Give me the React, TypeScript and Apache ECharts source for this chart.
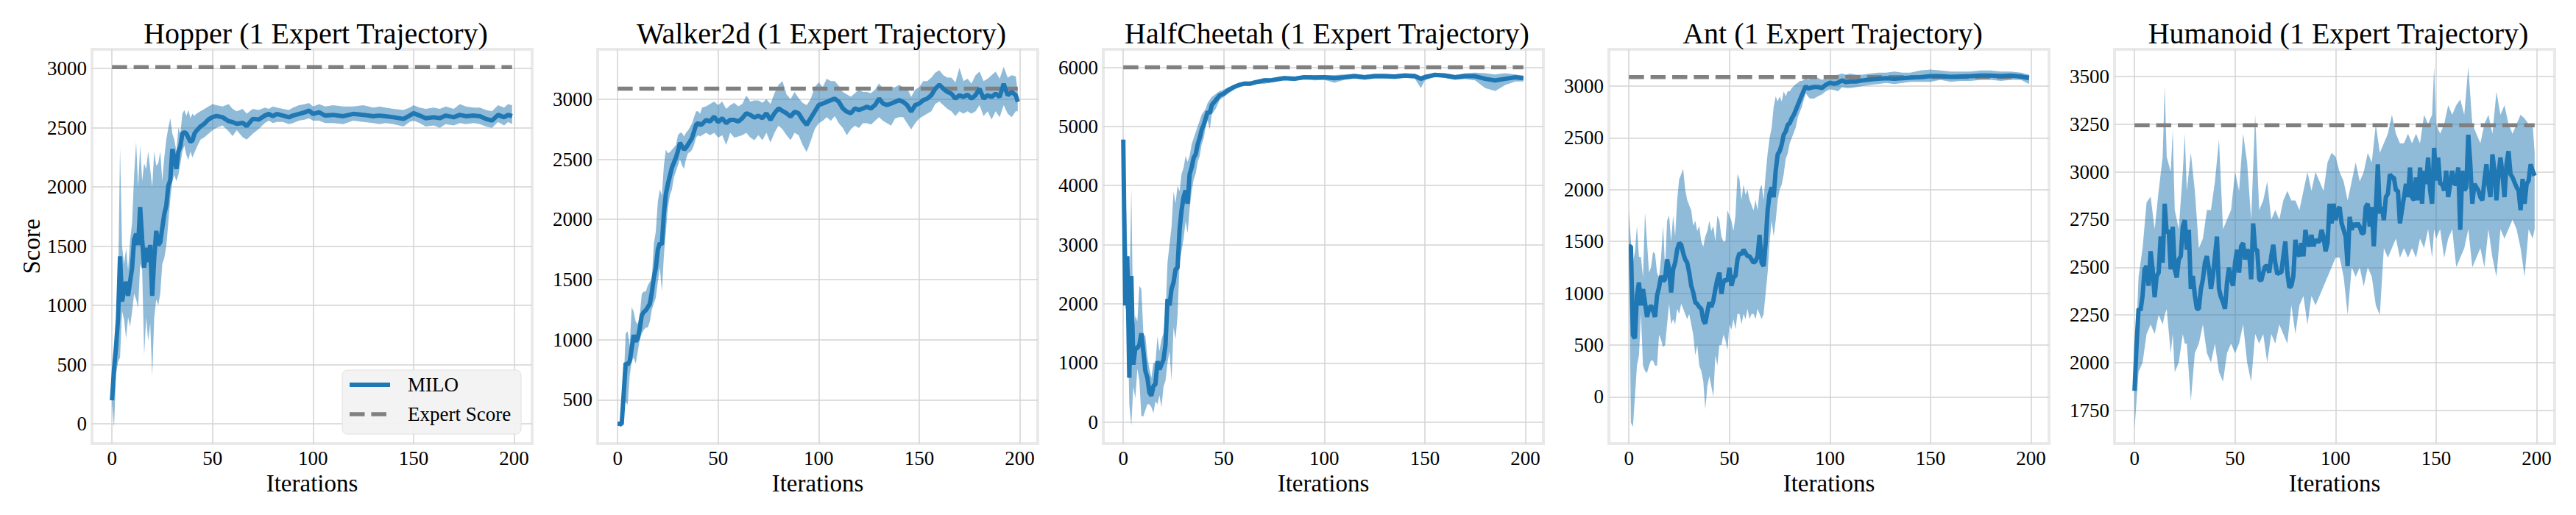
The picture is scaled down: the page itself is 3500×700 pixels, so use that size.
import React, { useEffect, useRef } from "react";
import * as echarts from "echarts";

const FONT = "'Liberation Serif', 'Times New Roman', Times, serif";

// ---------------- data ----------------
const TITLES = [
  "Hopper (1 Expert Trajectory)",
  "Walker2d (1 Expert Trajectory)",
  "HalfCheetah (1 Expert Trajectory)",
  "Ant (1 Expert Trajectory)",
  "Humanoid (1 Expert Trajectory)",
];
const X_TICKS = [0, 50, 100, 150, 200];
const HOP_TICKS = [0, 500, 1000, 1500, 2000, 2500, 3000];
const WAL_TICKS = [500, 1000, 1500, 2000, 2500, 3000];
const HC_TICKS = [0, 1000, 2000, 3000, 4000, 5000, 6000];
const ANT_TICKS = [0, 500, 1000, 1500, 2000, 2500, 3000];
const HUM_TICKS = [1750, 2000, 2250, 2500, 2750, 3000, 3250, 3500];

const EXPERT = [3012, 3088, 6000, 3086, 3245];

// Hopper
const HOP_X = [0,1,2,3,4,5,6,7,8,9,10,11,12,13,14,15,16,17,18,19,20,21,22,23,24,25,26,27,28,29,30,31,32,33,34,35,36,37,38,39,40,41,42,
  44,46,48,50,52,55,58,60,62,65,67,70,73,76,78,80,82,85,88,90,93,96,98,100,103,106,110,115,120,125,130,133,136,140,145,148,150,153,156,160,163,166,170,173,176,180,183,186,189,192,195,197,199];
const HOP_MEAN = [198,460,650,890,1414,1033,1128,1200,1080,1200,1319,1557,1605,1510,1831,1557,1319,1486,1366,1510,1080,1400,1629,1510,1533,1653,1772,1843,2010,2058,2320,2249,2153,2296,2344,2451,2463,2451,2415,2381,2392,2451,2475,
  2511,2535,2571,2590,2600,2589,2556,2548,2534,2542,2514,2575,2570,2603,2617,2598,2617,2603,2589,2603,2617,2631,2645,2617,2631,2603,2609,2598,2617,2609,2598,2603,2598,2589,2575,2603,2623,2603,2581,2589,2581,2603,2589,2609,2598,2603,2598,2575,2561,2609,2589,2609,2598];
const HOP_LO = [170,-30,420,520,560,950,880,720,900,820,950,1100,1050,980,1350,1300,580,900,700,850,400,900,1050,1000,1100,1350,1400,1500,1700,1900,2050,2100,2050,2100,2200,2300,2350,2270,2230,2300,2250,2290,2330,
  2400,2420,2450,2480,2500,2520,2470,2430,2480,2420,2400,2450,2490,2540,2560,2540,2550,2550,2530,2540,2560,2570,2580,2560,2560,2540,2540,2530,2560,2550,2540,2530,2540,2530,2510,2550,2560,2540,2510,2520,2500,2530,2520,2540,2530,2540,2530,2510,2500,2550,2520,2550,2530];
const HOP_HI = [230,500,800,1150,2330,1500,1350,1480,1300,1550,1700,2100,2380,2000,2350,2050,2200,2150,2300,2150,2000,2300,2180,2200,2300,2050,2250,2400,2500,2580,2450,2400,2300,2500,2450,2620,2650,2600,2650,2580,2620,2600,2620,
  2640,2660,2680,2700,2690,2680,2700,2660,2640,2660,2620,2660,2650,2670,2660,2680,2670,2660,2650,2670,2690,2700,2710,2680,2700,2680,2690,2680,2680,2690,2670,2680,2670,2660,2650,2670,2690,2670,2660,2670,2660,2680,2660,2700,2680,2670,2670,2650,2640,2690,2670,2700,2690];

// Walker2d
const WAL_X = [0,1,2,3,4,5,6,7,8,9,10,11,12,13,14,15,16,17,18,19,20,21,22,23,24,25,26,27,28,29,30,31,32,33,34,35,36,37,38,39,40,41,42,
  44,46,48,50,52,54,56,58,60,62,64,66,68,70,72,74,76,78,80,82,84,86,88,90,92,94,96,98,100,102,104,106,108,110,112,114,116,118,120,122,
  124,126,128,130,132,134,136,138,140,142,144,146,148,150,152,154,156,158,160,162,164,166,168,170,172,174,176,178,180,182,184,186,188,190,192,194,196,198,199];
const WAL_MEAN = [300,300,295,546,806,792,820,929,1038,984,1011,1093,1202,1230,1243,1270,1298,1393,1516,1598,1749,1803,1790,2049,2213,2295,2363,2432,2473,2514,2568,2637,2609,2582,2596,2623,2650,2678,2732,2787,2801,2787,2792,
  2828,2814,2855,2809,2842,2801,2828,2828,2814,2842,
  2883,2869,2847,2863,2842,2883,2828,2883,2923,2902,
  2883,2855,2896,2883,2828,2787,2842,2896,2951,2964,
  2978,2992,3005,2978,2923,2896,2883,2923,2910,2923,
  2937,2923,2951,3005,2964,2951,2964,2978,2992,2978,
  2951,2896,2951,2964,2992,3005,3033,3087,3120,3087,
  3060,3046,3005,3033,3019,3038,3005,3033,3087,3005,
  3033,3019,3046,3019,3128,3033,3060,3033,2978];
const WAL_LO = [290,280,280,450,480,460,700,820,850,800,900,1000,1050,1080,1100,1100,1150,1250,1300,1350,1480,1600,1400,1700,1900,2100,2200,2250,2350,2400,2450,2500,2450,2420,2500,2550,2560,2580,2620,2680,2700,2690,2700,
  2720,2700,2720,2680,2700,2620,2720,2680,2690,2700,
  2720,2680,2660,2700,2660,2720,2640,2720,2780,2750,
  2700,2660,2720,2700,2620,2560,2650,2750,2800,2820,
  2850,2820,2860,2800,2760,2700,2750,2780,2760,2800,
  2800,2790,2820,2850,2820,2800,2780,2840,2850,2850,
  2800,2750,2800,2840,2860,2880,2900,2960,2980,2950,
  2920,2900,2860,2900,2880,2900,2880,2900,2950,2860,
  2900,2830,2900,2850,2950,2880,2850,2900,2900];
const WAL_HI = [310,310,310,650,1050,1070,950,1270,1230,1150,1130,1200,1380,1400,1400,1450,1480,1500,1800,1900,2150,2250,2200,2450,2580,2550,2560,2580,2600,2620,2700,2720,2720,2690,2720,2740,2770,2800,2850,2900,2900,2880,2930,
  2940,2960,2980,2950,2980,2920,2950,2970,2940,2960,
  3030,2980,2990,2990,2970,3000,2960,3050,3120,3150,
  3040,3000,3060,3010,2970,2950,3000,3100,3140,3100,
  3170,3150,3150,3110,3060,3040,3020,3050,3080,3060,
  3060,3050,3080,3130,3090,3080,3100,3100,3120,3100,
  3090,3020,3080,3100,3150,3150,3180,3220,3240,3200,
  3180,3180,3140,3260,3150,3170,3130,3200,3230,3150,
  3170,3200,3230,3170,3270,3180,3200,3190,3060];

// HalfCheetah
const HC_X = [0,1,2,3,4,5,6,7,8,9,10,11,12,13,14,15,16,17,18,19,20,21,22,23,24,25,26,27,28,29,30,31,32,33,34,35,36,37,38,39,40,41,42,43,44,
  46,48,50,52,55,58,60,63,66,70,73,76,80,85,90,95,100,105,110,115,120,125,130,135,140,145,148,150,155,160,165,170,175,180,185,190,195,199];
const HC_MEAN = [4778,1972,2806,750,2472,972,1250,1250,1306,1500,1194,861,750,500,444,611,639,1028,889,972,1056,1306,2083,1972,2250,2361,2583,2611,3250,3583,3806,3917,3694,4194,4306,4472,4528,4694,4806,4944,5028,5139,5250,5222,5361,
  5444,5528,5556,5611,5667,5706,5722,5722,5750,5778,5778,5794,5817,5806,5833,5828,5833,5817,5833,5850,5833,5850,5850,5844,5861,5850,5806,5833,5872,5861,5833,5850,5850,5806,5778,5806,5833,5817];
const HC_LO = [4700,1900,2000,300,-60,600,400,900,700,100,100,200,300,300,250,150,350,300,450,250,600,700,1000,1200,700,1600,1400,1800,2700,2900,3100,3400,3200,3600,3900,4100,4200,4400,4500,4700,4800,5000,5100,4950,5200,
  5300,5450,5500,5550,5620,5670,5690,5690,5720,5720,5740,5760,5790,5770,5800,5780,5790,5740,5790,5810,5790,5810,5810,5800,5820,5810,5650,5780,5840,5820,5790,5800,5780,5650,5600,5700,5760,5760];
const HC_HI = [4850,4100,2900,2000,3950,1500,1800,1700,2300,2250,1500,1450,1100,900,750,1000,1000,1450,1200,1400,1500,1800,2700,3000,3300,3900,3700,4000,3900,4200,4300,4500,4400,4500,4700,4800,4900,5000,5100,5200,5250,5300,5400,5450,5500,
  5550,5600,5620,5660,5700,5740,5760,5760,5780,5820,5810,5830,5850,5840,5870,5860,5870,5870,5880,5890,5870,5890,5890,5880,5900,5890,5850,5880,5900,5900,5870,5900,5910,5900,5880,5900,5880,5860];

// Ant
const ANT_X = [0,1,2,3,4,5,6,7,8,9,10,11,12,13,14,15,16,17,18,19,20,21,22,23,24,25,26,27,28,29,30,31,32,33,34,35,36,37,38,39,40,41,42,43,44,45,46,47,48,49,
  50,51,52,53,54,55,56,57,58,59,60,61,62,63,64,65,66,67,68,69,70,71,72,73,74,75,76,77,78,79,80,81,82,83,84,85,86,87,88,89,90,
  92,94,96,98,100,102,104,106,108,110,113,116,120,124,128,132,136,140,145,150,155,160,165,170,175,180,185,190,195,199];
const ANT_MEAN = [1452,1452,596,564,977,1104,882,1040,913,771,
  850,882,834,771,977,1056,1167,1119,1135,1326,
  1230,1008,1230,1294,1421,1484,1468,1389,1326,1294,
  1199,1072,1008,913,897,866,850,739,707,818,
  913,866,929,1040,1135,1199,993,1104,1135,1119,
  1246,1072,1151,1167,1326,1389,1373,1421,1389,1357,
  1357,1326,1294,1310,1357,1563,1294,1262,1484,1801,
  1960,2023,1928,2182,2340,2372,2436,2531,2562,2626,
  2642,2689,2721,2768,2816,2864,2911,2959,3000,2975,
  2981,
  2991,2991,2981,3013,3032,3022,3032,3054,3038,3044,3044,3054,3063,3070,3076,3070,3076,3082,3086,3095,3095,3089,3092,3095,3101,3101,3095,3101,3092,3076];
const ANT_LO = [1400,-250,-290,0,300,400,800,300,250,230,
  300,350,350,300,300,600,550,480,500,700,
  900,700,750,700,850,800,900,850,800,750,
  800,700,600,400,500,300,250,150,-120,100,
  200,100,0,400,300,500,500,600,550,450,
  700,650,750,650,800,800,700,800,750,850,
  750,800,800,750,850,800,750,800,1000,1200,
  1500,1700,1550,1700,1900,2000,2050,2150,2300,2350,
  2450,2500,2550,2600,2700,2750,2800,2870,2930,2900,
  2880,
  2880,2900,2920,2950,2970,2960,2950,2990,2980,2980,2990,3000,3010,3020,3030,3020,3030,3040,3040,3040,3060,3040,3050,3050,3060,3060,3050,3060,3060,3020];
const ANT_HI = [1800,1500,1300,1400,1650,1350,1350,1150,1780,1500,
  1200,1250,1400,1380,1200,1150,1350,1650,1250,1700,
  1750,1500,1750,1550,1900,2100,2150,2200,2000,1900,
  1850,1800,1650,1700,1600,1650,1500,1450,1550,1600,
  1700,1600,1650,1500,1750,1700,1550,1500,1500,1800,
  1750,1700,1600,1750,2150,2100,1900,2050,1950,2000,
  1900,1850,1800,1900,1800,2000,2050,1900,2150,2350,
  2500,2600,2800,2900,2850,2900,2850,2950,2900,2950,
  2950,2980,3000,3020,3030,3050,3050,3060,3080,3060,
  3070,
  3100,3080,3060,3080,3100,3090,3110,3120,3110,3120,3110,3110,3120,3130,3130,3140,3130,3130,3150,3160,3150,3140,3140,3140,3150,3150,3140,3140,3130,3110];

// Humanoid (mean at every iteration 0..199)
const HUM_MEAN = [1852,2093,2282,2274,2351,2489,2506,2403,2584,2489,
  2343,2454,2472,2661,2524,2833,2678,2696,2489,2713,
  2489,2446,2541,2558,2713,2747,2592,2696,2386,2454,
  2351,2282,2282,2386,2437,2524,2558,2489,2386,2454,
  2558,2661,2386,2343,2317,2282,2420,2498,2437,2403,
  2524,2592,2472,2610,2627,2541,2592,2575,2437,2730,
  2592,2592,2437,2429,2472,2506,2506,2472,2558,2618,
  2524,2463,2472,2472,2558,2635,2472,2394,2403,2454,
  2644,2575,2558,2627,2558,2696,2627,2610,2670,2610,
  2644,2635,2635,2696,2661,2584,2627,2833,2730,2833,
  2747,2799,2816,2730,2696,2661,2506,2764,2696,2730,
  2713,2730,2713,2678,2678,2816,2833,2713,2816,2610,
  2799,3040,2782,2816,2747,2868,2885,2988,2971,2971,
  2902,2902,2730,2799,2868,2937,2868,3023,2868,2851,
  2971,2851,3023,2833,3006,2937,3075,2902,2833,3126,
  2954,3075,2937,2937,2902,3006,2868,2937,3006,2937,
  2937,3023,2696,3006,2902,2920,3195,3040,2833,2937,
  2920,2902,2868,2851,2954,3040,2937,2868,3092,3006,
  2851,2988,3075,2988,2868,3040,3109,2988,2971,2945,
  2920,2902,2799,2963,2833,2937,2954,3040,3006,2980];
const HUM_BX = [0,2,4,6,8,10,12,14,15,16,18,19,20,22,24,25,26,28,30,32,34,36,38,40,42,44,46,48,50,52,54,56,58,60,62,64,66,68,70,72,74,76,78,80,82,84,86,88,90,92,
  94,96,98,100,102,104,106,108,110,112,114,116,118,120,122,124,126,128,130,132,134,136,138,140,142,144,146,148,149,150,152,154,156,158,160,162,164,166,168,170,
  172,174,176,178,180,182,184,186,188,190,192,194,196,198,199];
const HUM_LO = [1650,1950,2000,2150,2200,2150,2250,2200,2250,2280,
  2050,2150,1950,2000,2150,2100,2100,1800,2050,2100,
  2200,2050,2000,2100,1950,1900,2050,2100,2050,2100,
  2200,2000,1900,2150,2100,2150,2000,2150,2100,2200,
  2150,2100,2300,2150,2300,2350,2200,2350,2300,2350,
  2400,2450,2500,2550,2550,2450,2250,2500,2450,2500,
  2400,2500,2450,2300,2250,2600,2550,2600,2650,2550,
  2600,2550,2600,2550,2650,2600,2700,2550,2700,2650,
  2700,2550,2650,2700,2500,2550,2600,2700,2500,2550,
  2600,2500,2700,2550,2450,2700,2650,2700,2750,2700,
  2600,2450,2700,2650,2700];
const HUM_HI = [1900,2450,2600,2840,2870,2700,2900,3080,3450,3080,
  3000,3220,2800,2700,3000,3200,2900,3100,2900,2600,
  2650,2800,2800,2950,3170,2700,2750,2800,3000,2900,
  3200,3050,2750,3300,2800,2850,2950,2750,2800,2750,
  2850,2900,2850,2850,2800,2900,3000,2900,3000,2950,
  2900,3050,3100,3080,3000,2950,2850,2950,3050,2950,
  3000,3100,3050,3250,3100,3150,3200,3300,3200,3150,
  3150,3200,3150,3200,3150,3300,3250,3300,3550,3250,
  3200,3250,3350,3300,3350,3380,3300,3550,3250,3200,
  3150,3250,3300,3200,3420,3300,3350,3250,3200,3250,
  3300,3280,3250,3250,3100];

// ---------------- layout ----------------
const PANEL_LEFT = [125, 812, 1499, 2186, 2873];
const PANEL_W = 598;
const PANEL_TOP = 67;
const PANEL_H = 536;
const X_RANGE = [-9.95, 208.95];

const BLUE = "#1f77b4";
const BAND = "rgba(31,119,180,0.5)";
const GRAY = "#808080";

function buildOption() {
  const panels = [
    { x: HOP_X, mean: HOP_MEAN, bx: HOP_X, lo: HOP_LO, hi: HOP_HI, ymin: -168, ymax: 3163, ticks: HOP_TICKS },
    { x: WAL_X, mean: WAL_MEAN, bx: WAL_X, lo: WAL_LO, hi: WAL_HI, ymin: 135, ymax: 3415, ticks: WAL_TICKS },
    { x: HC_X, mean: HC_MEAN, bx: HC_X, lo: HC_LO, hi: HC_HI, ymin: -365, ymax: 6305, ticks: HC_TICKS },
    { x: ANT_X, mean: ANT_MEAN, bx: ANT_X, lo: ANT_LO, hi: ANT_HI, ymin: -452, ymax: 3355, ticks: ANT_TICKS },
    { x: HUM_MEAN.map((_, i) => i), mean: HUM_MEAN, bx: HUM_BX, lo: HUM_LO, hi: HUM_HI, ymin: 1575, ymax: 3643, ticks: HUM_TICKS },
  ];

  const grid: any[] = [];
  const xAxis: any[] = [];
  const yAxis: any[] = [];
  const series: any[] = [];
  const title: any[] = [];

  const labelStyle = { fontFamily: FONT, fontSize: 27, color: "#000", formatter: (v: number) => String(v) };
  const splitLine = { show: true, lineStyle: { color: "#d3d3d3", width: 1.5 } };

  panels.forEach((p, i) => {
    grid.push({
      left: PANEL_LEFT[i], top: PANEL_TOP, width: PANEL_W, height: PANEL_H,
      show: true, borderColor: "#e9e9e9", borderWidth: 4, backgroundColor: "#ffffff",
    });
    title.push({
      text: TITLES[i], left: PANEL_LEFT[i] + PANEL_W / 2, top: 20, textAlign: "center",
      textStyle: { fontFamily: FONT, fontSize: 40, fontWeight: "normal", color: "#000" },
    });
    xAxis.push({
      gridIndex: i, type: "value", min: X_RANGE[0], max: X_RANGE[1],
      name: "Iterations", nameLocation: "middle", nameGap: 32,
      nameTextStyle: { fontFamily: FONT, fontSize: 33, color: "#000" },
      axisLine: { show: false }, axisTick: { show: false, customValues: X_TICKS },
      axisLabel: { ...labelStyle, margin: 6, customValues: X_TICKS },
      splitLine,
    });
    yAxis.push({
      gridIndex: i, type: "value", min: p.ymin, max: p.ymax,
      name: i === 0 ? "Score" : "", nameLocation: "middle", nameGap: 66,
      nameTextStyle: { fontFamily: FONT, fontSize: 33, color: "#000" },
      axisLine: { show: false }, axisTick: { show: false, customValues: p.ticks },
      axisLabel: { ...labelStyle, margin: 7, customValues: p.ticks },
      splitLine,
    });
    series.push({
      type: "line", name: "Expert Score", xAxisIndex: i, yAxisIndex: i, silent: true,
      data: [[0, EXPERT[i]], [199, EXPERT[i]]], symbol: "none",
      lineStyle: { color: GRAY, width: 5.5, type: [20.5, 8.9] }, z: 2,
    });
    const bx = p.bx, lo = p.lo, hi = p.hi;
    series.push({
      type: "custom", name: "band-" + i, xAxisIndex: i, yAxisIndex: i, silent: true, z: 2,
      data: bx.map((xv, j) => [xv, lo[j], hi[j]]),
      encode: { x: 0, y: [1, 2] },
      renderItem: (params: any, api: any) => {
        if (params.dataIndex !== 0) return null;
        const pts: number[][] = [];
        for (let j = 0; j < bx.length; j++) pts.push(api.coord([bx[j], hi[j]]));
        for (let j = bx.length - 1; j >= 0; j--) pts.push(api.coord([bx[j], lo[j]]));
        return { type: "polygon", shape: { points: pts }, style: { fill: BAND, stroke: "none" } };
      },
    });
    series.push({
      type: "line", name: "MILO", xAxisIndex: i, yAxisIndex: i,
      data: p.x.map((xv, j) => [xv, p.mean[j]]), symbol: "none", showSymbol: false,
      lineStyle: { color: BLUE, width: 6 }, z: 3,
    });
  });

  const legendX = 465, legendY = 503;
  const graphic = [
    {
      type: "group", z: 100, children: [
        { type: "rect", z: 100, shape: { x: legendX, y: legendY, width: 243, height: 87, r: 7 },
          style: { fill: "rgba(242,242,242,0.92)", stroke: "#e0e0e0", lineWidth: 1 } },
        { type: "line", z: 101, shape: { x1: legendX + 10, y1: legendY + 20, x2: legendX + 65, y2: legendY + 20 },
          style: { stroke: BLUE, lineWidth: 6 } },
        { type: "line", z: 101, shape: { x1: legendX + 10, y1: legendY + 60, x2: legendX + 65, y2: legendY + 60 },
          style: { stroke: GRAY, lineWidth: 5.5, lineDash: [20.5, 8.9] } },
        { type: "text", z: 101, x: legendX + 89, y: legendY + 20,
          style: { text: "MILO", fontFamily: FONT, fontSize: 27, fill: "#000", verticalAlign: "middle", align: "left" } },
        { type: "text", z: 101, x: legendX + 89, y: legendY + 60,
          style: { text: "Expert Score", fontFamily: FONT, fontSize: 27, fill: "#000", verticalAlign: "middle", align: "left" } },
      ],
    },
  ];

  return {
    animation: false,
    backgroundColor: "#ffffff",
    textStyle: { fontFamily: FONT },
    title, grid, xAxis, yAxis, series, graphic,
  };
}

export default function App() {
  const ref = useRef<HTMLDivElement>(null);
  useEffect(() => {
    if (!ref.current) return;
    const chart = echarts.init(ref.current, null, { renderer: "svg" });
    chart.setOption(buildOption() as any);
    return () => chart.dispose();
  }, []);
  return (
    <div
      ref={ref}
      style={{ position: "fixed", left: 0, top: 0, width: 3500, height: 700, background: "#fff" }}
    />
  );
}
